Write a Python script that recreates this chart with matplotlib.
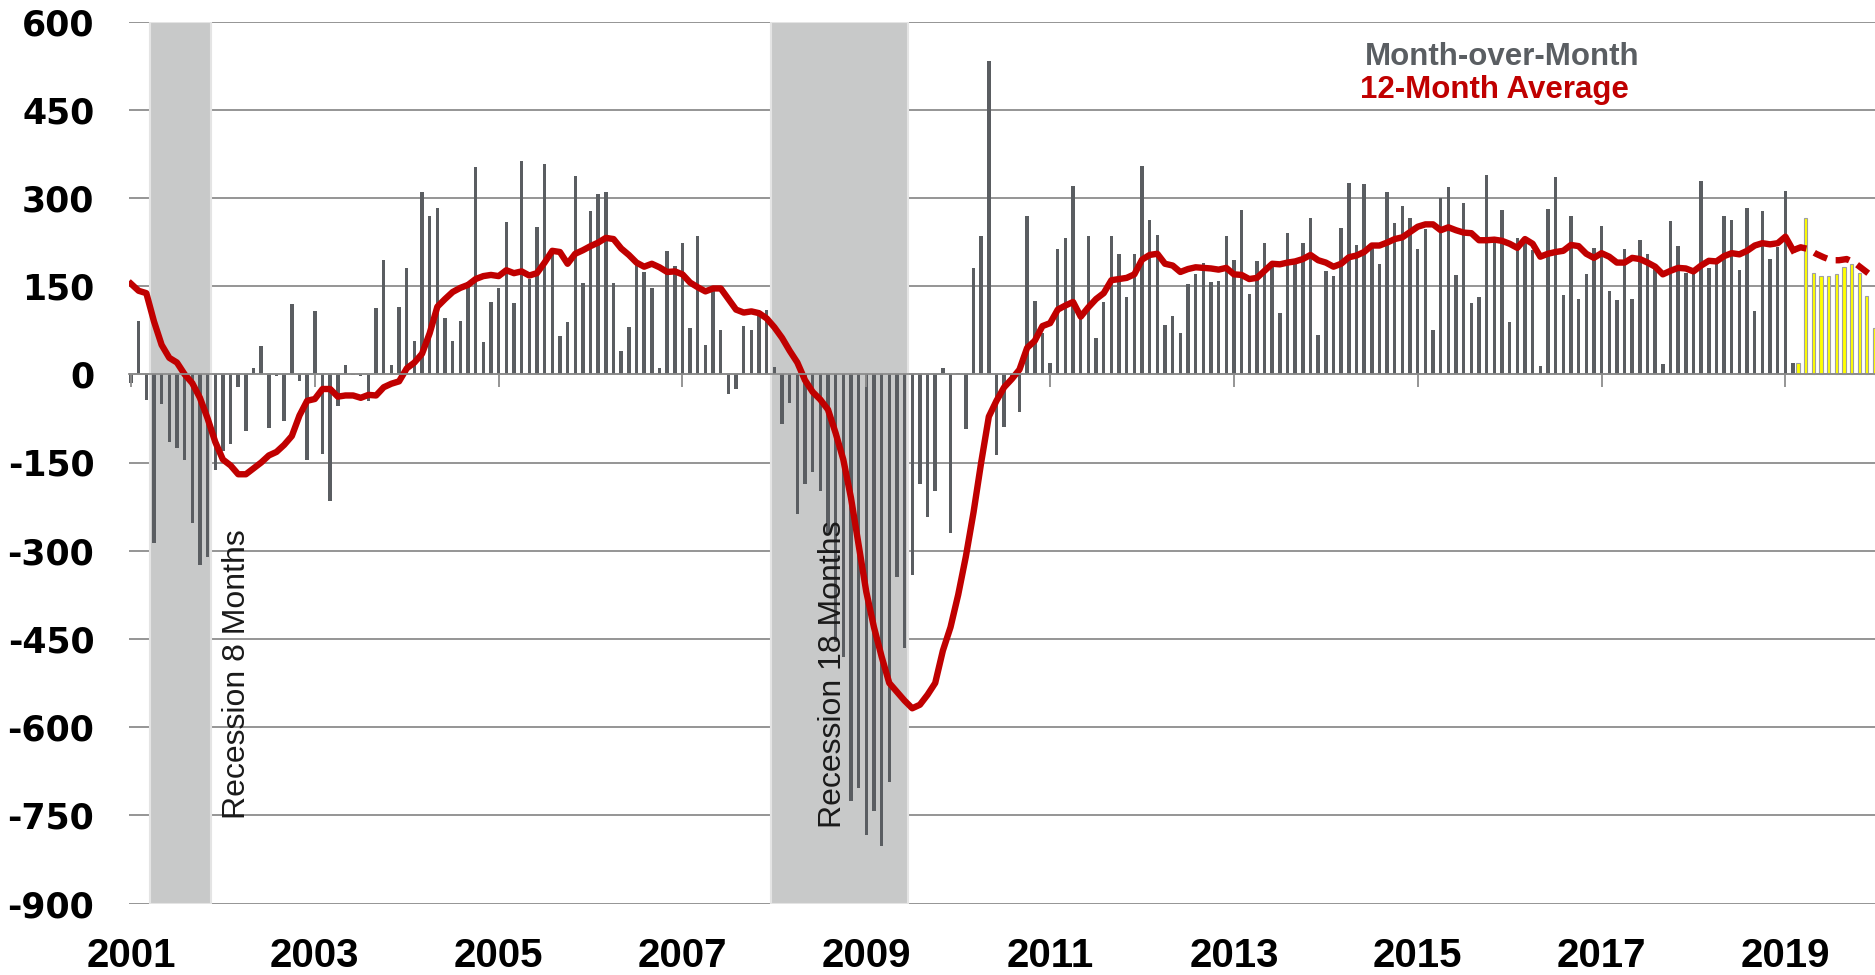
import numpy as np
import matplotlib.pyplot as plt

# monthly change in payrolls (thousands), Jan 2001 .. Feb 2019
mom_change = [
    -15, 91, -44, -287, -50, -115, -126, -145, -253, -324, -310, -162,   # 2001
    -131, -119, -22, -96, 10, 48, -92, -3, -80, 119, -12, -145,          # 2002
    107, -136, -215, -54, 15, -2, -3, -46, 112, 194, 16, 115,            # 2003
    181, 57, 310, 270, 283, 96, 57, 90, 157, 352, 55, 123,               # 2004
    146, 259, 122, 362, 162, 250, 357, 204, 65, 89, 338, 155,            # 2005
    278, 306, 310, 156, 39, 80, 193, 174, 146, 10, 210, 185,             # 2006
    223, 79, 235, 50, 150, 76, -34, -25, 82, 76, 99, 109,                # 2007
    12, -84, -49, -237, -186, -167, -199, -270, -455, -480, -726, -704,  # 2008
    -783, -743, -802, -694, -345, -465, -342, -186, -243, -198, 11, -270,  # 2009
    2, -93, 180, 236, 533, -137, -89, -8, -64, 269, 124, 70,             # 2010
    20, 213, 232, 321, 95, 235, 61, 123, 235, 204, 132, 204,             # 2011
    355, 263, 237, 83, 99, 71, 153, 171, 189, 157, 158, 235,             # 2012
    194, 279, 137, 192, 224, 183, 105, 240, 189, 224, 266, 67,           # 2013
    176, 168, 249, 326, 220, 323, 215, 187, 310, 257, 286, 266,          # 2014
    213, 247, 76, 300, 319, 169, 292, 122, 131, 339, 225, 279,           # 2015
    89, 232, 232, 211, 14, 281, 335, 135, 269, 128, 171, 215,            # 2016
    252, 141, 126, 213, 128, 229, 204, 183, 17, 260, 219, 173,           # 2017
    176, 329, 181, 189, 270, 263, 178, 282, 107, 277, 196, 217,          # 2018
    311, 20,                                                             # 2019
]

# 12-month average, Jan 2001 .. Feb 2019
avg_12m = [
    154, 142, 138, 90, 50, 28, 20, 0, -15, -40, -75, -115,
    -145, -155, -170, -170, -160, -150, -138, -132, -120, -105, -70, -45,
    -42, -25, -25, -38, -36, -36, -40, -35, -36, -22, -16, -12,
    10, 20, 35, 70, 115, 128, 140, 147, 152, 162, 167, 169,
    167, 177, 172, 175, 168, 172, 190, 210, 208, 188, 205, 211,
    218, 224, 232, 230, 214, 203, 190, 183, 188, 182, 174, 175,
    170, 156, 148, 141, 146, 146, 128, 110, 105, 107, 104, 95,
    80, 62, 40, 20, -10, -30, -43, -60, -100, -145, -210, -290,
    -370, -430, -480, -525, -540, -555, -568, -562, -545, -525, -470, -430,
    -375, -310, -235, -150, -72, -45, -22, -8, 8, 45, 57, 82,
    87, 110, 117, 123, 98, 114, 128, 138, 160, 162, 164, 170,
    195, 203, 205, 188, 185, 174, 179, 182, 181, 180, 178, 181,
    170, 169, 162, 164, 176, 188, 187, 190, 192, 196, 203, 194,
    190, 183, 188, 199, 202, 208, 219, 219, 224, 230, 233, 242,
    251, 255, 255, 245, 250, 245, 241, 240, 228, 228, 229, 227,
    222, 215, 230, 222, 200, 205, 208, 210, 220, 218, 205, 198,
    206, 200, 190, 190, 198, 196, 190, 183, 170, 176, 181, 180,
    175, 185, 193, 192, 201, 206, 204, 210, 219, 223, 221, 223,
    234, 211,
]

# forecast, Feb 2019 .. Dec 2019
fcst_change = [20, 266, 173, 167, 167, 171, 182, 187, 172, 133, 78]
fcst_avg = [211, 216, 213, 205, 199, 194, 194, 196, 190, 180, 170]

year_labels = [str(y) for y in range(2001, 2020, 2)]
yticks = list(range(-900, 601, 150))

# recessions: first and last month (year, month)
rec_first = [(2001, 4), (2008, 1)]
rec_last = [(2001, 11), (2009, 6)]
rec_labels = ['Recession 8 Months', 'Recession 18 Months']


def month_idx(ym):
    return (ym[0] - 2001) * 12 + ym[1] - 1


months = np.arange(len(mom_change))
fc_months = np.arange(len(fcst_change)) + len(mom_change) - 1
year_ticks = [(int(y) - 2001) * 12 for y in year_labels]

grid_col = '#8c8c8c'
red = '#c00000'
bar_col = '#5a5d61'

fig = plt.figure(figsize=(18.75, 9.75), dpi=100)
ax = fig.add_axes([129 / 1875, 1 - 903.5 / 975, 1 - 129 / 1875, 882 / 975])
ymin, ymax = -900, 600
ax.set_ylim(ymin, ymax)
ax.set_xlim(-0.26, 227.7)

for spine in ax.spines.values():
    spine.set_visible(False)

# recession shading
for a, b in zip(rec_first, rec_last):
    ax.axvspan(month_idx(a) - 0.5, month_idx(b) + 0.4, color='#c8c9c9',
               ec='#e4e4e4', lw=1.5, zorder=1)

ax.bar(months, mom_change, width=0.45, color=bar_col, zorder=3)
ax.bar(fc_months + 0.65, fcst_change, width=0.4, color='#ffff00',
       edgecolor='#a0a0a0', linewidth=0.8, zorder=3)

ax.plot(months, avg_12m, color=red, lw=4.6, zorder=4, solid_joinstyle='round')
ax.plot(fc_months, fcst_avg, color=red, lw=4.6, zorder=4, ls=(0, (2.2, 1.4)))

# grid / y axis
ax.set_yticks(yticks)
ax.set_yticklabels([str(v) for v in yticks], fontsize=25, fontweight='bold',
                   family='DejaVu Sans')
ax.grid(axis='y', color=grid_col, lw=1.3)
ax.set_axisbelow(True)
ax.tick_params(axis='y', length=0, pad=25)

# year labels at the bottom
ax.set_xticks(year_ticks)
ax.set_xticklabels(year_labels, fontsize=29, fontweight='bold',
                   family='Liberation Sans')
ax.tick_params(axis='x', length=0, pad=24)

# zero line with tick marks
zero_ax = ax.secondary_xaxis((0 - ymin) / (ymax - ymin))
zero_ax.set_alignment('bottom')
zero_ax.set_xticks(year_ticks)
zero_ax.set_xticklabels([])
zero_ax.tick_params(length=9.5, width=1.3, color=grid_col)
zero_ax.spines['bottom'].set_color(grid_col)
zero_ax.spines['bottom'].set_linewidth(1.3)
zero_ax.set_zorder(5)

# recession labels
ax.text(month_idx(rec_last[0]) + 3.8, -757, rec_labels[0], rotation=90,
        ha='center', va='bottom', fontsize=23, family='Liberation Sans',
        color='#1a1a1a', zorder=6)
ax.text(month_idx(rec_first[1]) + 7.6, -772, rec_labels[1], rotation=90,
        ha='center', va='bottom', fontsize=23, family='Liberation Sans',
        color='#1a1a1a', zorder=6)

# legend text
fig.text(0.801, 1 - 65 / 975, 'Month-over-Month', ha='center', va='baseline',
         color='#5a5e62', fontsize=22.5, fontweight='bold', family='Liberation Sans')
fig.text(0.797, 1 - 98 / 975, '12-Month Average', ha='center', va='baseline',
         color=red, fontsize=22.5, fontweight='bold', family='Liberation Sans')

fig.savefig('out.png', dpi=100)
